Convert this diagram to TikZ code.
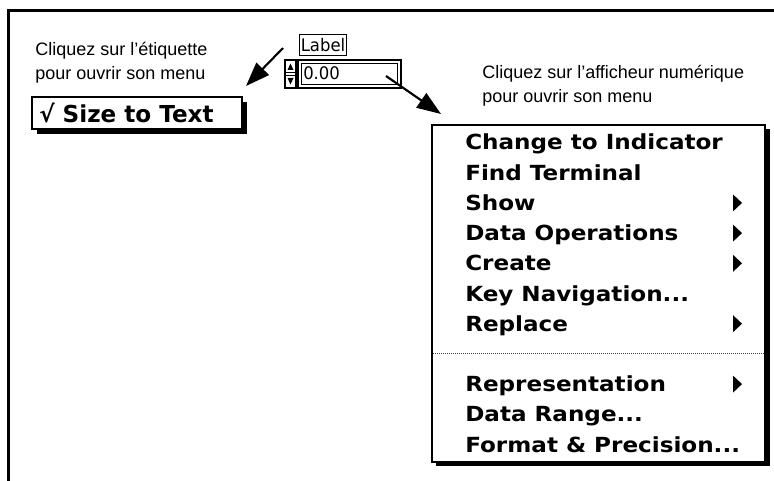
\documentclass[tikz,border=0pt]{standalone}
\usepackage{fontspec}
\setmainfont{Liberation Sans}
\newfontfamily\menufont{DejaVu Sans}[FakeStretch=1.11]
\newfontfamily\sizefont{DejaVu Sans}[FakeStretch=0.99]
\newfontfamily\uifont{DejaVu Sans}[FakeStretch=0.95]
\usetikzlibrary{arrows.meta}

\tikzset{
  caption/.style={font=\fontsize{13.5}{16}\selectfont, inner sep=0pt, anchor=base west},
  menuitem/.style={font=\menufont\bfseries\fontsize{15.6}{18}\selectfont, inner sep=0pt, anchor=base west},
  uitext/.style={font=\uifont\fontsize{13}{15}\selectfont, inner sep=0pt},
  pointer/.style={line width=1.6pt, -{Triangle[length=18pt,width=13pt]}},
  thinframe/.style={line width=0.9pt},
  submenu/.style={fill=black},
}

\begin{document}
\begin{tikzpicture}[x=0.75pt, y=-0.75pt]
  \useasboundingbox (0,0) rectangle (774,481);

  % outer frame: top and left edges only
  \draw[line width=2.2pt] (8.5,481) -- (8.5,10.5) -- (774,10.5);

  % captions
  \node[caption] (capL1) at (35,56) {Cliquez sur l’étiquette};
  \node[caption] (capL2) at (35,80) {pour ouvrir son menu};
  \node[caption] (capR1) at (482,79) {Cliquez sur l’afficheur numérique};
  \node[caption] (capR2) at (482,103) {pour ouvrir son menu};

  % label of the control
  \node[uitext, draw, thinframe, minimum width=35pt, minimum height=16pt] (lbl) at (323,45) {Label};

  % numeric control: increment buttons
  \draw[thinframe] (285,60) rectangle (296,88);
  \draw[line width=0.7pt] (285,72.5) -- (296,72.5) (285,75.5) -- (296,75.5);
  \fill (287.5,70) -- (293.5,70) -- (290.5,63.5) -- cycle;
  \fill (287.5,78) -- (293.5,78) -- (290.5,84.5) -- cycle;
  \draw[line width=1.6pt] (297,60) -- (297,88);
  % numeric display with double border
  \draw[thinframe] (298,60) rectangle (401,88);
  \draw[thinframe] (301.5,63.5) rectangle (397.5,84.5);
  \node[uitext, anchor=base west] (num) at (303,80) {0.00};
  \coordinate (numout) at (386,76);

  % "Size to Text" item with shadow
  \fill (37,102) rectangle (247,134);
  \draw[fill=white, line width=1.1pt] (32,97) rectangle (242,129);
  \node[font=\sizefont\bfseries\fontsize{17.5}{20}\selectfont, inner sep=0pt, anchor=base west] (size) at (39,123) {√ Size to Text};

  % pointers
  \coordinate (lblptr) at (283,48);
  \coordinate (sizeptr) at (246,86);
  \draw[pointer] (lblptr) -- (sizeptr);
  \coordinate (menuptr) at (441,114);
  \draw[pointer] (numout) -- (menuptr);

  % pop-up menu with shadow
  \fill (436,129) rectangle (770,466);
  \draw[fill=white, line width=1pt] (432,125) rectangle (765,462);

  \node[menuitem] (m1) at (465,150) {Change to Indicator};
  \node[menuitem] (m2) at (465,180.2) {Find Terminal};
  \node[menuitem] (m3) at (465,210.4) {Show};
  \node[menuitem] (m4) at (465,240.6) {Data Operations};
  \node[menuitem] (m5) at (465,270.8) {Create};
  \node[menuitem] (m6) at (465,301) {Key Navigation...};
  \node[menuitem] (m7) at (465,331.2) {Replace};
  \draw[line width=0.75pt, dash pattern=on 0.75pt off 0.75pt, black!75] (433,353) -- (764,353);
  \node[menuitem] (m8) at (465,391.6) {Representation};
  \node[menuitem] (m9) at (465,421.8) {Data Range...};
  \node[menuitem] (m10) at (465,452) {Format \& Precision...};

  % submenu markers
  \foreach \b in {210.4,240.6,270.8,331.2,391.6}
    \fill[submenu] (733,\b-16) -- (742,\b-7.5) -- (733,\b+1) -- cycle;
\end{tikzpicture}
\end{document}
